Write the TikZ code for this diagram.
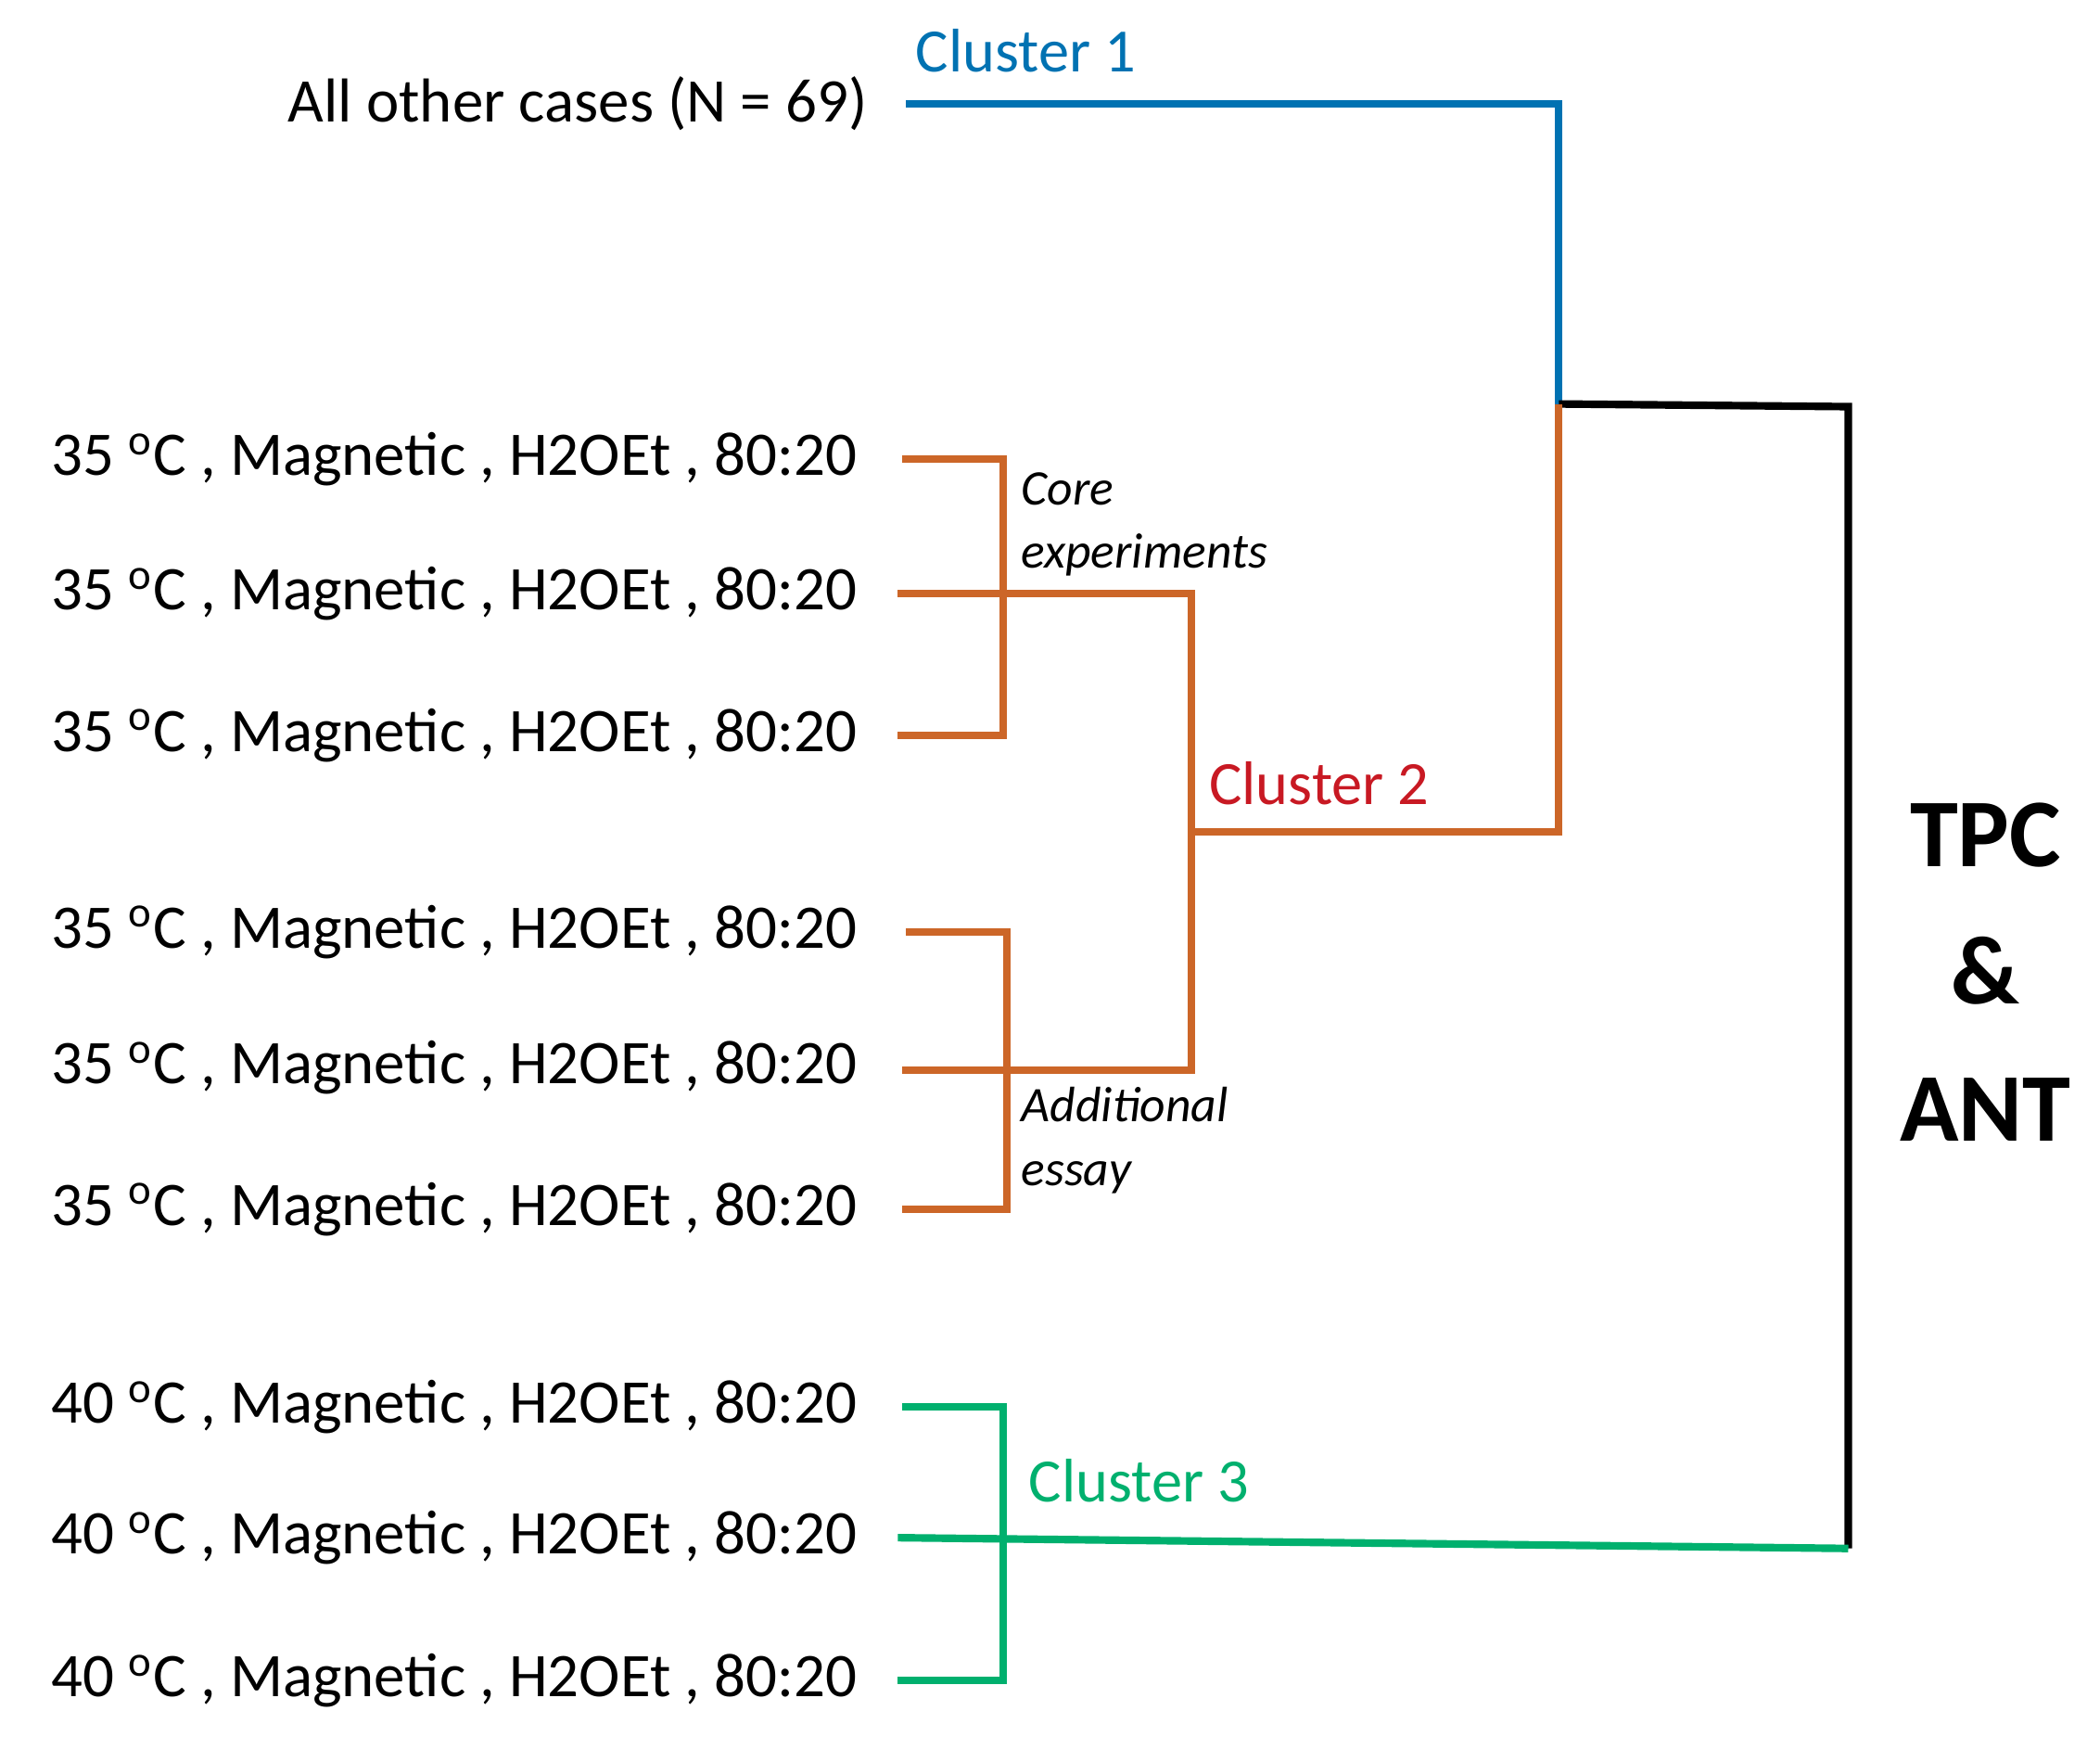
\documentclass[tikz,border=0pt]{standalone}
\usepackage{fontspec}
\setmainfont{Carlito}
\begin{document}
\begin{tikzpicture}[x=0.01cm,y=-0.01cm,
 lab/.style={anchor=east,font=\fontsize{13.1pt}{15pt}\selectfont,inner sep=0},
 ln/.style={line width=1.6pt},
 bl/.style={ln,draw={rgb,255:red,0;green,114;blue,178}},
 orl/.style={ln,draw={rgb,255:red,204;green,102;blue,40}},
 gr/.style={ln,draw={rgb,255:red,0;green,176;blue,110}},
 it/.style={anchor=north west,align=left,font=\itshape\fontsize{10.5pt}{13.5pt}\selectfont,inner sep=0}]
\useasboundingbox (0,0) rectangle (1560,1308);
\node[lab] (t0) at (645,77) {All other cases (N = 69)};
\foreach \n/\y/\d in {a/341/35,b/441/35,c/546/35,d/692/35,e/793/35,f/898/35,g/1045/40,h/1142/40,i/1248/40}
  \node[lab] (\n) at (637,\y) {\d\ \textsuperscript{o}C , Magnetic , H2OEt , 80:20};
\coordinate (top) at (1158,300);
\draw[bl] (673,77) -- (1158,77) -- (top);
\draw[ln] (top) -- (1373,302) -- (1373,1150);
\draw[orl] (top) -- (1158,618) -- (885,618);
\draw[orl] (670,341) -- (745,341) -- (745,546) -- (667,546);
\draw[orl] (667,441) -- (885,441) -- (885,795) -- (670,795);
\draw[orl] (673,692) -- (748,692) -- (748,898) -- (670,898);
\draw[gr] (670,1045) -- (745,1045) -- (745,1248) -- (667,1248);
\draw[gr] (667,1142) -- (1373,1150);
\node[font=\fontsize{13pt}{15pt}\selectfont,text={rgb,255:red,0;green,114;blue,178}] (c1) at (762,38) {Cluster 1};
\node[font=\fontsize{13pt}{15pt}\selectfont,text={rgb,255:red,200;green,25;blue,35}] (c2) at (980,582) {Cluster 2};
\node[font=\fontsize{13pt}{15pt}\selectfont,text={rgb,255:red,0;green,176;blue,110}] (c3) at (846,1100) {Cluster 3};
\node[it] (core) at (758,350) {Core\\experiments};
\node[it] (add) at (758,807) {Additional\\essay};
\node[font=\bfseries\fontsize{20.5pt}{29pt}\selectfont,align=center] (tpc) at (1475,722) {TPC\\\&\\ANT};
\end{tikzpicture}
\end{document}
